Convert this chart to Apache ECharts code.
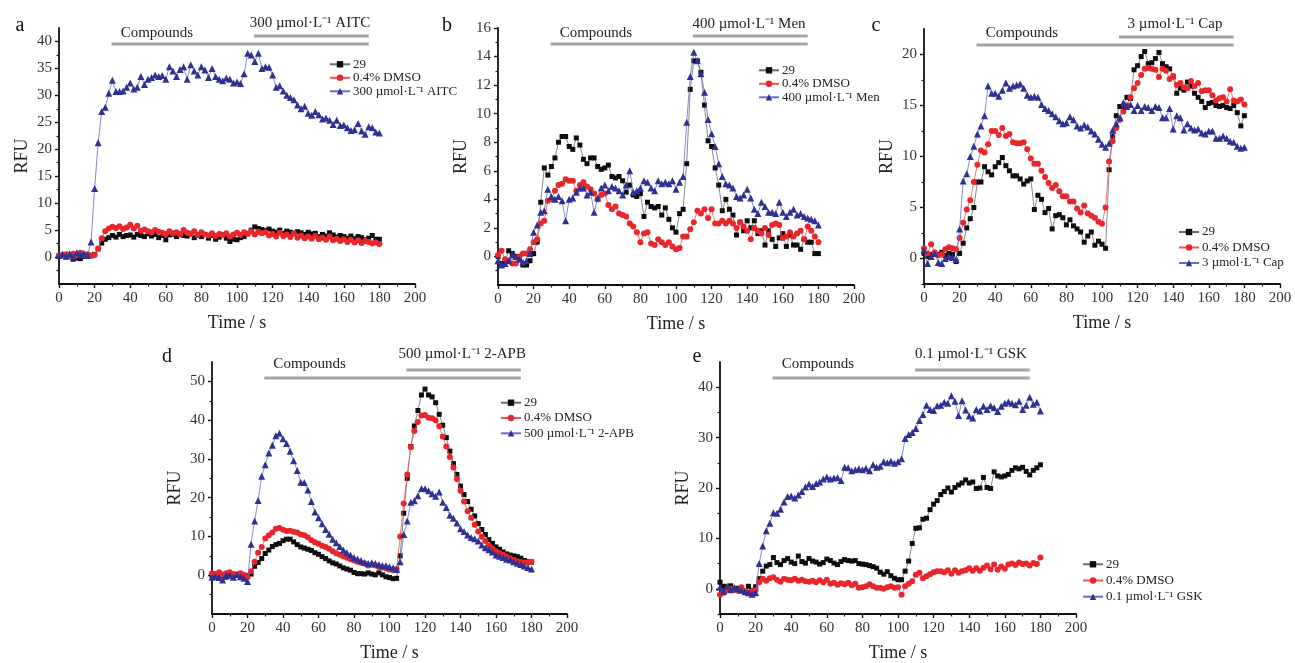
<!DOCTYPE html>
<html><head><meta charset="utf-8">
<script src="https://cdn.jsdelivr.net/npm/echarts@6/dist/echarts.min.js"></script>
<style>html,body{margin:0;padding:0;background:#fff}#c{width:1295px;height:663px}</style>
</head><body><div id="c"></div>
<script>
// ---------------- DATA ----------------
const times = [0,2,4,6,8,10,12,14,16,18,20,22,24,26,28,30,32,34,36,38,40,42,44,46,48,50,52,54,56,58,60,62,64,66,68,70,72,74,76,78,80,82,84,86,88,90,92,94,96,98,100,102,104,106,108,110,112,114,116,118,120,122,124,126,128,130,132,134,136,138,140,142,144,146,148,150,152,154,156,158,160,162,164,166,168,170,172,174,176,178,180];
const xTickLabels = [0,20,40,60,80,100,120,140,160,180,200];
const seriesNames = ['29', '0.4% DMSO'];
const drugNames = ['300 µmol·L⁻¹ AITC', '400 µmol·L⁻¹ Men', '3 µmol·L⁻¹ Cap', '500 µmol·L⁻¹ 2-APB', '0.1 µmol·L⁻¹ GSK'];
const barLabel = 'Compounds';
const panelLetters = ['a','b','c','d','e'];

// panel a
const aBlack = [0.2,0.3,0,0.2,-0.4,-0.2,-0.3,0.1,0.3,0.2, 0.5,1.5,2.6,3.3,3.6,4,3.7,4.2,3.8,4, 4.1,3.7,4.2,4,3.8,4.3,3.9,4.2,3.6,4, 3.2,4.1,4.2,3.8,4.3,4,3.9,4.4,3.6,4.1, 3.8,4.2,3.5,4,3.3,3.7,4.2,3.5,2.9,3.3, 3.2,3.6,3.8,4.4,5,5.6,5.3,5.1,4.9,5.2, 4.8,4.6,5,4.4,4.8,4.6,4.3,4.7,4.5,4.2, 4.6,4.3,4.4,3.8,4.2,3.9,4.5,4.1,3.7,4, 3.8,3.5,3.9,3.4,3.8,3.6,3.2,3.5,4,3.3, 3.3];
const aRed = [0.3,0.4,0.5,0.2,0.6,0.3,0.8,0.4,0.5,0.3, 0.4,1.6,3.5,4.8,5.3,5.6,5.4,5.7,5.2,5.5, 6,5.3,5.8,4.9,5.1,4.8,4.6,5,4.7,4.5, 4.3,4.8,4.4,4.6,4.2,5,4.5,4.3,4.8,4.1, 4.6,4.2,4,4.4,3.9,4.3,4.1,4.4,3.8,4.2, 4.5,4.1,4.6,4.3,4.8,4.2,4.7,4.4,4.6,4, 4.3,3.8,4.5,3.9,4.2,3.7,4.4,3.6,4,3.5, 3.8,3.4,3.9,3.3,3.6,3.2,3.8,3.1,3.4,3, 3.3,2.8,3.2,2.7,3.1,2.6,3,2.8,2.5,2.7, 2.4];
const aBlue = [0.3,0.5,0.2,0.6,0.0,0.8,0.4,0.7,0.3,2.8, 12.7,21.2,27,27.8,30.4,32.8,30.7,30.7,30.8,31.5, 32.3,31.2,31.5,33.5,32,33,33.3,33.8,33.5,33.7, 33,35.3,34.5,33.5,34.8,35.3,33,35.7,34.5,33.8, 35.3,34.7,33.3,35,33.5,33,32.7,33.2,33,32.3, 32.5,32.2,34,37.8,37.5,36.3,37.8,35,35.3,35.2, 33.8,31.5,31.8,30.8,30,29.6,29.2,28.2,27.5,28, 26.7,26.3,27,26.4,25.6,25.8,25.4,24.6,25.4,24.4, 24.5,24,23.5,23.6,24.8,23.4,22.8,24.2,24,23.2, 23];
const aYTicks = [0,5,10,15,20,25,30,35,40];
const aYMinor = [-2.5,2.5,7.5,12.5,17.5,22.5,27.5,32.5,37.5];

// panel b
const bBlack = [0,-0.5,-0.3,0.4,0.2,0,-0.2,-0.6,-0.6,-0.3, 0.2,1.0,3.8,6.2,5.7,6.3,6.9,8.0,8.4,8.4, 7.7,7.5,8.3,7.8,6.8,6.5,6.9,6.9,6.3,6.1, 6.2,6.4,5.6,5.5,5.6,5.3,4.5,5.0,4.3,4.2, 4.4,2.8,3.8,3.5,3.4,3.5,2.9,3.4,2.6,2.0, 1.7,3.0,3.3,6.5,11.7,13.7,13.7,12.9,10.6,8.1, 7.7,6.2,5.0,3.2,4.0,3.3,2.9,1.5,2.4,1.8, 2.5,2.0,2.5,1.6,1.8,0.8,1.8,1.2,0.7,1.3, 1.6,0.7,1.5,0.8,0.8,0.5,1.2,1.0,1.0,0.2, 0.2];
const bRed = [0.1,0.4,-0.2,-0.3,-0.5,-0.5,0,0.2,0.2,0.5, 1.0,1.2,2.3,2.5,3.9,4.0,4.6,5.0,5.1,5.4, 5.3,5.3,4.6,5.0,5.2,4.9,4.7,4.4,4.0,4.3, 4.4,3.6,3.3,3.5,3.0,2.9,2.8,2.3,2.1,1.7, 1.0,1.6,1.7,0.9,0.8,1.2,1.0,0.8,1.0,0.7, 0.5,0.6,1.4,1.4,1.9,2.4,3.2,3.0,3.3,2.7, 3.3,2.3,2.3,2.5,2.3,2.5,2.3,2.0,2.4,2.1, 1.8,1.2,2.0,1.8,1.6,2.0,1.5,2.2,2.3,2.2, 1.3,1.4,1.7,1.4,1.6,1.8,1.2,2.1,1.8,1.4, 1.0];
const bBlue = [-0.3,-0.6,-0.5,-0.3,0.1,0,-0.2,-0.4,-0.3,0.2, 1.7,2.2,3.1,3.2,4.7,4.2,4.0,4.2,3.9,2.5, 4.0,4.1,4.5,4.8,4.8,4.3,4.5,3.1,4.1,4.8, 5.0,4.6,4.9,4.8,4.6,4.3,5.0,6.0,4.5,4.6, 4.8,5.3,5.2,4.8,4.6,5.3,5.1,5.2,5.1,5.3, 4.7,5.2,5.6,9.4,12.6,14.3,13.7,12.8,11.5,9.6, 8.6,7.7,6.5,5.6,5.1,5.0,4.8,4.2,4.1,4.3, 4.7,4.1,3.3,3.0,3.8,3.5,3.1,3.1,3.0,3.8, 3.1,2.8,3.1,3.3,2.9,3.0,2.8,2.7,2.6,2.5, 2.2];
const bYTicks = [0,2,4,6,8,10,12,14,16];
const bYMinor = [-1,1,3,5,7,9,11,13,15];

// panel c
const cBlack = [0.5,0.2,0.4,0.5,0.4,0.6,0.3,0.5,0.4,-0.3, 0.5,1.5,3.0,3.9,5.0,7.5,7.5,9.0,8.5,8.2, 9.0,9.4,9.9,9.1,8.6,8.1,8.1,7.8,7.3,7.6, 7.8,4.8,6.2,5.8,4.5,4.9,2.9,4.2,4.3,4.0, 3.3,3.8,3.2,2.9,2.6,1.6,2.2,2.6,1.3,1.7, 1.4,1.0,8.7,12.0,14.0,14.9,14.7,15.8,15.7,18.5, 18.9,19.8,20.3,19.1,19.2,19.6,20.2,19.1,18.8,18.6, 17.8,16.2,16.7,16.5,17.3,16.9,16.2,15.8,15.4,14.8, 15.2,15.3,15.0,14.9,15.0,14.8,14.7,15.0,14.3,13.0, 14.0];
const cRed = [1.0,0.5,1.4,0.6,0.3,0.4,0.9,1.1,1.0,0.9, 2.0,3.5,4.8,5.7,7.5,9.2,10.6,10.4,11.2,12.5, 12.5,12.1,12.8,12.0,12.2,11.4,11.3,11.3,11.4,10.7, 9.8,9.3,9.3,8.6,8.0,7.4,6.9,7.2,6.6,6.1, 6.1,5.6,5.6,4.9,4.5,5.2,4.4,4.2,4.0,3.6, 3.4,5.0,9.5,11.5,12.8,13.6,14.4,15.0,15.8,16.7, 17.2,18.0,18.6,18.7,18.6,18.5,17.8,18.6,18.4,17.6, 17.9,17.0,17.2,16.8,16.7,17.4,16.9,17.2,16.4,16.5, 16.5,16.0,15.5,15.7,15.8,15.4,16.6,15.5,15.4,15.6, 15.1];
const cBlue = [0.8,-0.5,0.2,0.5,-0.4,-0.5,0,0.2,0.1,-0.1, 2.9,7.6,8.3,10.0,11.0,12.2,13.0,14.0,16.9,16.2, 16.2,15.9,16.5,17.2,16.7,16.9,17.0,17.1,16.7,16.0, 15.8,15.9,15.8,15.1,14.7,14.5,14.2,13.9,13.5,13.2, 13.3,13.9,13.6,13.0,12.8,13.1,12.9,12.5,12.2,11.7, 11.2,10.9,11.3,12.6,13.2,13.8,15.3,14.9,15.1,14.5, 15.0,14.5,14.9,14.8,14.5,14.9,14.8,13.8,13.8,14.7, 12.7,14.0,13.8,12.6,13.2,12.8,12.6,12.7,12.3,12.2, 12.5,12.5,11.8,11.8,12.0,11.8,11.5,11.4,11.0,10.8, 10.9];
const cYTicks = [0,5,10,15,20];
const cYMinor = [-2.5,2.5,7.5,12.5,17.5];

// panel d
const dBlack = [0,-0.3,0.3,0,-0.5,0.2,-0.2,0,0.2,-0.5, -0.1,0.3,2.3,3.3,4.3,5.6,6.5,7.4,7.9,8.2, 8.9,9.3,9.3,8.6,7.9,7.3,7.0,6.7,6.4,5.8, 5.4,4.8,4.3,3.7,3.2,2.9,2.4,1.9,1.6,1.3, 0.7,0.4,0.4,0.3,0.6,0.3,0.1,0.6,0.1,-0.4, -0.6,-0.9,-0.8,5.0,16.0,25.0,33.2,38.5,42.5,46.5, 48.0,46.5,46.0,44.5,41.5,38.7,35.5,32.0,28.8,26.0, 23.0,20.8,19.0,17.0,15.3,13.3,11.8,10.5,9.2,8.2, 7.3,6.7,6.0,5.5,5.2,5.0,4.8,4.4,3.8,3.5, 3.4];
const dRed = [0.5,0.3,0.8,0.2,0.5,0.8,0.3,0.2,0.5,0.1, -0.5,1.0,3.5,5.8,7.3,9.5,10.3,11.0,12.0,12.2, 11.7,11.4,11.5,11.2,11.0,10.5,10.3,9.8,9.0,8.5, 8.1,7.6,7.3,6.8,6.2,5.7,5.3,4.9,4.5,4.1, 3.8,3.5,3.2,3.0,2.5,2.7,2.5,2.1,2.0,1.8, 1.5,1.3,1.6,10.0,18.5,26.0,33.0,37.2,39.5,41.2, 41.3,40.6,40.5,40.0,38.4,35.8,33.2,30.5,27.8,24.8, 21.8,19.0,16.5,14.8,13.0,11.3,9.9,8.8,7.7,6.9, 6.2,5.7,5.3,4.8,4.3,3.9,3.6,3.4,3.3,3.3, 3.5];
const dBlue = [-0.5,-0.3,-0.6,-1.2,0,0,-0.5,0.2,-0.4,-0.8, -1.6,8.0,14.0,19.3,25.5,28.5,31.5,33.5,36.0,36.6, 35.2,34.0,32.0,29.5,27.0,24.0,23.9,22.0,19.0,16.3, 14.8,13.3,11.8,10.6,9.3,8.4,7.4,6.5,5.8,5.2, 4.6,4.2,3.8,3.3,3.0,3.2,3.0,2.8,2.5,2.5, 2.2,1.9,1.5,3.5,10.5,14.0,18.8,19.2,20.5,22.4, 22.3,21.8,21.0,20.4,21.5,18.8,17.5,15.5,14.7,13.5, 12.0,11.3,10.4,9.7,9.4,8.8,7.8,7.1,6.6,6.0, 5.2,4.9,4.6,4.1,3.9,3.5,3.1,2.8,2.4,2.0, 1.6];
const dYTicks = [0,10,20,30,40,50];
const dYMinor = [-5,5,15,25,35,45];

// panel e
const eBlack = [1.3,0.5,0.0,0.6,0.0,0.1,-0.2,-0.5,0.5,-0.3, 0.4,2.0,3.5,4.5,4.8,6.2,5.2,4.8,5.6,6.0, 5.3,5.0,6.5,5.4,5.1,6.0,5.5,5.3,4.9,5.2, 5.9,5.6,5.1,4.8,5.4,5.8,5.6,5.5,5.6,5.0, 4.9,4.8,4.6,4.4,4.1,3.3,2.9,3.4,2.6,2.1, 1.8,1.8,3.5,5.5,9.0,12.0,12.1,13.8,14.0,15.7, 16.8,17.5,18.7,19.3,20.0,19.2,20.1,20.6,21.0,21.6, 21.0,21.2,19.9,20.0,22.1,20.1,19.9,23.2,22.4,22.2, 22.4,22.7,23.5,24.0,23.8,24.1,23.3,22.6,23.5,24.0, 24.6];
const eRed = [-1.2,-0.8,-0.3,0.0,-0.2,-0.4,0.3,-0.5,-0.8,-0.5, -0.3,1.3,2.0,1.6,2.1,2.3,1.8,1.4,2.0,1.8, 1.7,2.0,1.6,1.8,1.5,1.4,1.6,1.3,1.7,1.3, 1.8,1.0,1.2,0.8,1.1,0.9,1.2,0.7,1.0,0.2, 0.3,0.5,0.9,0.5,0.2,0.2,0.0,0.3,0.5,0.2, 0.3,-1.2,0.5,1.0,1.5,2.8,3.2,2.1,2.5,2.9, 3.3,3.5,3.5,3.3,3.7,3.0,3.7,3.2,3.5,3.7, 4.1,3.6,4.1,3.6,4.2,4.6,3.9,4.8,3.8,4.4, 4.0,4.8,5.0,4.7,5.2,4.9,5.0,4.6,5.1,4.9, 6.2];
const eBlue = [0.3,-0.5,0.5,-0.2,0.2,0,-0.3,-0.6,-0.8,-1.1, -0.8,5.0,8.5,11.5,13.0,15.1,15.0,15.8,17.2,18.3, 18.4,18.0,18.6,19.3,20.2,20.8,20.3,20.9,21.2,21.8, 22.2,21.8,22.0,22.1,21.5,24.1,24.0,23.4,23.6,23.8, 23.6,23.9,23.4,24.6,24.1,24.3,25.2,25.0,25.3,24.9, 25.2,25.8,29.8,30.6,31.0,31.8,33.4,34.6,36.4,35.6, 35.4,36.3,36.4,37.0,36.8,38.3,37.2,34.4,37.3,35.5, 34.3,33.9,35.6,35.3,36.2,35.6,36.3,35.9,35.2,36.2, 36.8,37.1,36.8,36.5,37.2,35.6,36.4,38.0,36.6,37.0, 35.3];
const eYTicks = [0,10,20,30,40];
const eYMinor = [-5,5,15,25,35];

// ---------------- LAYOUT ----------------
const FONT = '"Liberation Serif", "Times New Roman", serif';
const panels = [
  {left:59,  top:28,  width:356, height:256, yMin:-5,   yMax:42.5, yT:aYTicks, yM:aYMinor, data:[aBlack,aRed,aBlue], lgL:329,  lgT:57.8,  lgG:0.5, letX:20,  letY:26,  xGap:30, yGap:28, compDy:5,   drugDy:-4.5},
  {left:498, top:28,  width:356, height:257, yMin:-2,   yMax:16,   yT:bYTicks, yM:bYMinor, data:[bBlack,bRed,bBlue], lgL:758,  lgT:63.8,  lgG:0.5, letX:447, letY:26,  xGap:30, yGap:28, compDy:5,   drugDy:-3.5},
  {left:924, top:29,  width:356, height:255, yMin:-2.5, yMax:22.5, yT:cYTicks, yM:cYMinor, data:[cBlack,cRed,cBlue], lgL:1178, lgT:225.5, lgG:2.5, letX:876, letY:26,  xGap:30, yGap:28, compDy:4,   drugDy:-5},
  {left:212, top:362, width:355, height:254, yMin:-10,  yMax:55,   yT:dYTicks, yM:dYMinor, data:[dBlack,dRed,dBlue], lgL:500,  lgT:396.2, lgG:2.3, letX:167, letY:357, xGap:30, yGap:28, compDy:1.6, drugDy:-8},
  {left:720, top:362, width:356, height:254, yMin:-5,   yMax:45,   yT:eYTicks, yM:eYMinor, data:[eBlack,eRed,eBlue], lgL:1082, lgT:557.8, lgG:3.2, letX:697, letY:357, xGap:30, yGap:28, compDy:1.6, drugDy:-8}
];
const styles = [
  {symbol:'rect',     size:5, color:'#0d0d0d', line:'#6b6b6b'},
  {symbol:'circle',   size:6, color:'#e8262b', line:'#ee5656'},
  {symbol:'triangle', size:7, color:'#2f3192', line:'#6a6cc4'}
];

const chart = echarts.init(document.getElementById('c'), null, {renderer:'canvas'});
const grid = [], xAxis = [], yAxis = [], series = [], legend = [];
panels.forEach((p, i) => {
  grid.push({left:p.left, top:p.top, width:p.width, height:p.height, containLabel:false});
  xAxis.push({
    type:'value', gridIndex:i, min:xTickLabels[0], max:xTickLabels[xTickLabels.length-1], interval:20,
    name:'Time / s', nameLocation:'middle', nameGap:p.xGap,
    nameTextStyle:{fontFamily:FONT, fontSize:18, color:'#222'},
    axisLine:{onZero:false, lineStyle:{color:'#111', width:1.8}},
    axisTick:{length:4, lineStyle:{color:'#111', width:1.4}},
    minorTick:{show:true, splitNumber:2, length:2.5, lineStyle:{color:'#111', width:1.2}},
    axisLabel:{fontFamily:FONT, fontSize:15, color:'#333', margin:7},
    splitLine:{show:false}, minorSplitLine:{show:false}
  });
  yAxis.push({
    type:'value', gridIndex:i, position:'left', min:p.yMin, max:p.yMax,
    name:'RFU', nameLocation:'middle', nameGap:p.yGap,
    nameTextStyle:{fontFamily:FONT, fontSize:18, color:'#222'},
    axisLine:{onZero:false, lineStyle:{color:'#111', width:1.8}},
    axisTick:{length:4, customValues:p.yT, lineStyle:{color:'#111', width:1.4}},
    axisLabel:{fontFamily:FONT, fontSize:15, color:'#333', margin:7, customValues:p.yT},
    splitLine:{show:false}
  });
  yAxis.push({
    type:'value', gridIndex:i, position:'left', offset:0, min:p.yMin, max:p.yMax,
    axisLine:{show:false, onZero:false},
    axisTick:{length:2.5, customValues:p.yM, lineStyle:{color:'#111', width:1.2}},
    axisLabel:{show:false}, splitLine:{show:false}
  });
  const names = [seriesNames[0], seriesNames[1], drugNames[i]];
  p.data.forEach((arr, k) => {
    const s = styles[k];
    series.push({
      type:'line', name:names[k], xAxisIndex:i, yAxisIndex:2*i,
      data: times.map((t, j) => [t, arr[j]]),
      symbol:s.symbol, symbolSize:s.size, showSymbol:true,
      lineStyle:{width:0.8, color:s.line}, itemStyle:{color:s.color},
      emphasis:{disabled:true}, animation:false, z:2+k
    });
  });
  legend.push({
    orient:'vertical', left:p.lgL, top:p.lgT, padding:0, itemGap:p.lgG,
    itemWidth:20, itemHeight:8, selectedMode:false, data:names,
    textStyle:{fontFamily:FONT, fontSize:13, color:'#222', lineHeight:11, padding:[0,0,0,-2]}
  });
});

chart.setOption({backgroundColor:'#fff', animation:false, grid, xAxis, yAxis, series, legend});

// annotation bars + texts, placed via axis conversion
const graphic = [];
panels.forEach((p, i) => {
  const px = v => chart.convertToPixel({xAxisIndex:i}, v);
  const yLong = p.top + 16, yShort = p.top + 8;
  graphic.push({type:'line', silent:true, shape:{x1:px(29.5), y1:yLong, x2:px(174), y2:yLong}, style:{stroke:'#a3a3a3', lineWidth:3}});
  graphic.push({type:'line', silent:true, shape:{x1:px(109.5), y1:yShort, x2:px(174), y2:yShort}, style:{stroke:'#a3a3a3', lineWidth:3}});
  graphic.push({type:'text', silent:true, x:px(55), y:p.top + p.compDy, style:{text:barLabel, font:'15px ' + FONT, fill:'#222', textAlign:'center', textVerticalAlign:'middle', align:'center', verticalAlign:'middle'}});
  graphic.push({type:'text', silent:true, x:px(141), y:p.top + p.drugDy, style:{text:drugNames[i], font:'15px ' + FONT, fill:'#222', textAlign:'center', textVerticalAlign:'middle', align:'center', verticalAlign:'middle'}});
  graphic.push({type:'text', silent:true, x:p.letX, y:p.letY, style:{text:panelLetters[i], font:'20px ' + FONT, fill:'#111', textAlign:'center', textVerticalAlign:'middle', align:'center', verticalAlign:'middle'}});
});
chart.setOption({graphic});
</script>
</body></html>
